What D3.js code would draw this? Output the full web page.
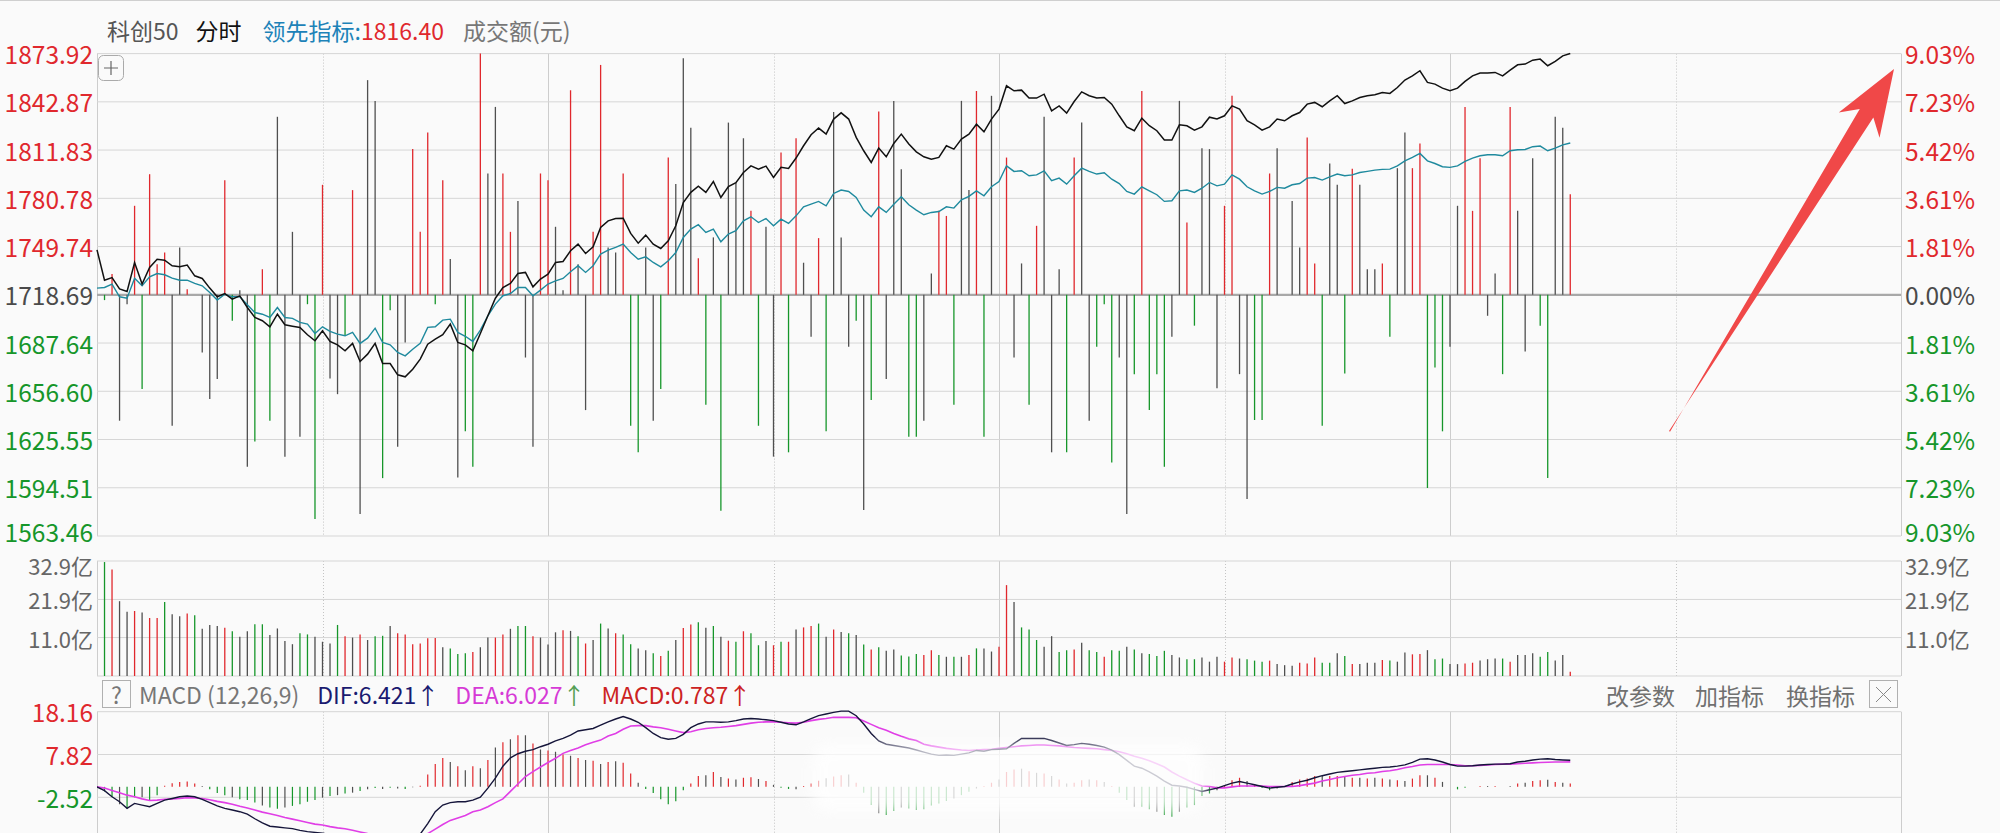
<!DOCTYPE html>
<html><head><meta charset="utf-8">
<script src="https://cdn.jsdelivr.net/npm/d3@7"></script>
<style>
html,body{margin:0;padding:0;background:#fafafa;}
svg{display:block;font-family:"Noto Sans CJK SC","Noto Sans",sans-serif;}
</style></head><body>
<svg id="c" width="2000" height="833"></svg>
<script>
// ---------- data ----------
const preClose = 1718.69;
const leftTicks = ["1873.92","1842.87","1811.83","1780.78","1749.74","1718.69","1687.64","1656.60","1625.55","1594.51","1563.46"];
const rightTicks = ["9.03%","7.23%","5.42%","3.61%","1.81%","0.00%","1.81%","3.61%","5.42%","7.23%","9.03%"];
const volTickVals = [32.9, 21.9, 11.0];
const volTicks = ["32.9亿","21.9亿","11.0亿"];
const macdTickVals = [18.16, 7.82, -2.52];
const macdTicks = ["18.16","7.82","-2.52"];

// black line (index price), one point per minute
const price = [1747.6,1728.1,1729.8,1722.5,1720.8,1739.5,1725.6,1736.3,1741.6,1741.0,
1737.4,1736.7,1737.8,1730.9,1729.2,1723.0,1717.4,1719.5,1715.9,1718.0,
1710.5,1704.1,1702.0,1698.1,1706.2,1699.4,1698.5,1697.7,1693.0,1689.1,
1695.5,1688.7,1686.5,1682.7,1687.4,1675.8,1680.5,1687.4,1674.5,1674.5,
1667.2,1665.9,1670.8,1677.3,1686.9,1690.2,1693.0,1699.8,1688.0,1686.5,
1682.7,1693.8,1705.2,1716.5,1723.4,1726.0,1732.4,1733.1,1723.8,1728.8,
1732.0,1739.5,1740.1,1747.0,1751.3,1745.3,1749.6,1762.0,1766.3,1767.8,
1768.0,1758.2,1751.9,1757.1,1751.3,1748.5,1753.4,1763.1,1778.1,1784.6,
1788.6,1784.6,1791.6,1781.3,1788.4,1790.8,1797.4,1801.7,1799.6,1801.5,
1794.2,1800.7,1800.0,1806.7,1814.6,1821.7,1826.0,1822.1,1831.8,1835.8,
1831.8,1820.0,1811.4,1803.9,1813.1,1807.5,1816.1,1822.1,1815.7,1810.7,
1807.5,1806.0,1807.1,1814.6,1812.4,1818.9,1822.1,1828.5,1823.6,1831.8,
1838.2,1853.2,1850.0,1850.4,1845.3,1845.3,1847.8,1837.1,1840.3,1835.6,
1843.1,1849.3,1846.8,1845.3,1845.7,1841.4,1833.9,1826.8,1824.3,1832.4,
1827.5,1824.3,1818.3,1818.3,1828.1,1827.5,1824.7,1826.8,1833.0,1831.8,
1833.9,1840.3,1838.2,1830.7,1828.1,1824.7,1826.8,1831.8,1830.7,1833.9,
1836.0,1841.4,1842.5,1839.7,1843.5,1846.8,1841.8,1843.5,1845.7,1846.8,
1847.4,1848.9,1848.3,1852.1,1856.9,1859.6,1862.9,1855.4,1854.3,1851.7,
1850.0,1851.7,1856.0,1859.6,1861.4,1861.4,1861.8,1859.6,1863.3,1866.7,
1867.2,1869.7,1870.4,1866.1,1868.9,1872.5,1874.0];

// teal line (领先指标)
const lead = [1723.0,1723.4,1725.6,1717.4,1716.5,1729.4,1724.5,1730.3,1732.4,1731.6,
1729.4,1728.1,1728.1,1726.0,1724.5,1720.2,1715.3,1719.1,1717.4,1717.4,
1712.3,1707.3,1706.2,1704.1,1710.5,1704.1,1703.5,1700.9,1699.8,1693.8,
1698.1,1695.1,1693.4,1692.3,1694.5,1687.4,1690.8,1697.2,1688.0,1686.5,
1681.6,1679.4,1683.7,1687.4,1697.7,1698.1,1702.4,1703.0,1694.5,1692.0,
1688.7,1696.0,1705.2,1712.7,1718.1,1719.5,1723.4,1723.4,1718.1,1721.7,
1725.6,1727.7,1729.2,1733.5,1737.4,1733.1,1737.4,1744.9,1747.4,1749.2,
1751.3,1745.9,1741.6,1743.1,1739.5,1736.7,1740.6,1745.9,1755.6,1761.0,
1763.8,1758.8,1761.0,1752.8,1757.8,1759.9,1766.3,1768.9,1765.2,1767.8,
1763.1,1767.4,1764.6,1769.5,1775.3,1777.0,1778.8,1776.0,1783.9,1786.1,
1785.2,1781.3,1773.2,1768.9,1775.3,1771.7,1777.0,1781.8,1776.6,1773.2,
1770.2,1771.7,1772.3,1775.3,1774.5,1779.8,1782.0,1785.6,1782.4,1788.2,
1791.6,1801.7,1798.1,1798.5,1795.3,1795.9,1798.5,1792.1,1793.8,1789.9,
1795.3,1800.2,1798.1,1796.4,1797.2,1793.1,1790.3,1785.2,1783.5,1788.2,
1785.6,1783.1,1778.8,1779.2,1785.6,1786.1,1784.6,1787.3,1791.0,1788.8,
1789.9,1795.9,1793.1,1788.2,1785.6,1783.5,1785.2,1787.8,1787.3,1789.5,
1790.3,1793.8,1794.2,1792.5,1794.6,1796.4,1795.3,1795.9,1797.4,1798.1,
1798.9,1799.4,1799.6,1801.7,1804.9,1807.1,1809.7,1804.9,1803.2,1801.1,
1800.7,1801.7,1804.5,1806.7,1808.2,1808.8,1808.8,1808.2,1811.4,1812.0,
1812.2,1814.0,1814.4,1811.4,1813.1,1815.2,1816.4];

// vertical strength spikes in the price panel (relative units, ±100 = panel edge)
const spikeVal = [0,-2.2,8.6,-52.2,-3.9,36.9,-39.1,50.0,12.7,17.5,
-54.3,19.6,2.3,0,-23.9,-43.2,-34.9,47.5,-10.8,1.9,
-71.3,-60.8,10.6,-52.2,73.8,-67.1,26.1,-58.8,-3.9,-93.0,
45.6,-34.7,-41.2,-17.0,43.4,-90.9,89.0,80.4,-76.0,-6.4,
-63.0,-19.8,60.4,26.1,67.3,-3.9,47.5,14.8,-75.7,-56.6,
-71.3,100,50.3,77.9,50.3,26.1,38.9,-26.0,-63.0,50.3,
47.5,28.2,1.9,84.8,12.7,-47.8,26.1,95.3,19.6,17.5,
50.3,-54.3,-65.3,19.6,-52.2,-39.1,56.9,45.9,98.1,69.3,
15.2,-45.6,23.8,-89.5,71.4,46.5,64.9,34.8,-54.3,28.2,
-67.1,59.0,-65.3,64.9,13.3,-17.4,23.5,-56.6,75.8,23.8,
-21.5,-10.8,-89.2,-43.6,76.0,-34.9,80.4,52.1,-58.8,-58.8,
-52.2,8.8,34.8,32.7,-45.6,80.4,43.4,84.5,-58.8,82.5,
0,56.9,-26.0,13.0,-45.6,28.6,73.8,-65.3,10.6,-65.3,
56.9,71.4,-52.2,-21.5,-3.9,-69.5,-26.0,-90.9,-32.9,84.5,
-47.8,-32.9,-71.3,-17.4,80.4,30.0,-12.8,60.8,60.4,-38.7,
36.9,82.5,-32.9,-84.7,-51.9,-51.9,50.3,60.8,0,38.9,
19.6,65.2,13.0,-54.3,54.4,45.6,-32.6,52.3,45.6,10.6,
10.6,13.0,-17.4,52.5,67.3,52.5,62.7,-80.1,-30.1,-56.6,
-21.5,36.9,77.9,34.8,56.6,-8.7,8.8,-32.9,77.9,34.8,
-23.5,56.6,-12.8,-76.0,73.8,69.3,41.7];
const spikeCol = ["","g","r","k","k","r","g","r","r","r",
"k","k","r","","k","k","k","r","g","k",
"k","g","r","g","k","k","k","k","g","g",
"r","k","k","g","r","k","k","k","g","g",
"k","k","r","r","r","g","r","k","k","g",
"g","r","k","k","r","r","k","k","k","r",
"r","k","k","r","k","k","r","r","k","k",
"r","g","g","k","k","g","r","k","k","k",
"r","g","k","g","k","k","k","r","g","k",
"k","r","g","r","k","k","r","g","k","k",
"k","g","k","g","r","k","k","k","g","g",
"k","k","r","r","g","k","k","r","g","k",
"","r","k","k","g","r","k","k","k","g",
"r","k","k","g","g","g","k","k","g","r",
"g","g","g","k","k","r","g","k","k","k",
"r","r","k","k","g","g","r","k","","k",
"k","r","r","g","k","k","g","r","k","k",
"k","r","g","k","k","r","r","g","g","g",
"k","k","r","r","r","k","k","g","r","k",
"k","k","g","g","k","k","r"];

// turnover per minute (亿元), index 0 has no bar
const vol = [null,32.6,30.5,21.4,18.4,18.6,18.2,16.6,16.6,21.2,
17.7,17.1,17.9,17.4,13.5,14.6,14.3,13.8,12.8,11.2,
12.8,14.8,14.8,11.7,13.6,10.0,9.1,12.2,11.9,11.2,
9.8,9.3,14.6,11.4,11.0,11.9,10.3,11.4,11.5,14.3,
12.2,11.9,9.1,9.3,10.8,10.9,8.2,7.9,6.3,6.5,
6.9,8.2,11.0,11.0,11.9,13.5,14.3,14.3,11.4,11.0,
9.0,12.5,13.1,12.9,11.4,9.3,10.3,15.0,13.6,12.2,
11.9,9.1,7.9,7.4,6.5,5.7,7.2,10.3,13.7,14.7,
15.4,13.8,14.3,11.2,10.1,9.8,12.8,12.2,8.8,10.0,
8.8,9.8,9.8,13.3,13.9,14.3,15.0,11.2,13.3,12.6,
12.2,11.7,9.0,7.6,8.2,7.2,7.6,5.9,5.6,6.3,
6.0,7.4,6.0,5.5,5.5,5.5,6.0,7.9,7.9,7.0,
8.4,26.0,21.2,13.9,13.3,10.3,8.4,11.4,6.9,7.4,
7.6,9.5,7.4,6.9,5.5,7.4,7.2,8.4,7.6,6.5,
6.3,5.7,7.2,6.0,5.3,4.8,4.8,5.3,4.1,5.5,
4.1,5.3,5.0,4.8,4.4,4.1,4.4,3.4,3.1,2.9,
3.8,3.6,5.3,3.8,3.8,6.5,5.7,3.4,3.4,3.8,
3.8,4.6,4.4,4.1,6.7,6.2,6.3,7.4,4.8,5.0,
3.4,3.4,3.6,3.8,4.4,4.8,5.0,5.0,4.1,6.0,
6.0,6.5,5.5,6.9,4.4,6.0,1.2];
const volCol = ["","g","r","k","k","r","k","r","r","g",
"k","k","r","g","k","k","k","r","g","k",
"k","g","g","k","k","k","k","g","g","k",
"k","k","g","r","k","r","k","g","g","k",
"r","r","r","r","r","r","k","g","g","g",
"r","k","k","r","r","k","g","g","r","k",
"k","k","r","k","g","r","k","g","k","r",
"g","g","k","k","g","r","g","k","r","r",
"g","k","g","k","r","g","r","g","g","k",
"r","g","r","k","r","r","g","k","r","k",
"g","k","g","r","g","k","k","g","g","g",
"r","r","g","k","g","k","r","g","k","k",
"r","r","k","g","g","g","k","k","g","g",
"r","k","g","g","r","g","g","k","g","k",
"g","g","g","k","k","g","g","k","k","k",
"r","r","k","g","g","g","r","k","k","k",
"r","r","r","g","g","k","g","r","k","k",
"k","r","g","k","k","r","r","k","g","g",
"k","k","r","r","k","k","k","g","r","k",
"k","k","g","g","k","k","r"];

// MACD (12,26,9)
const dif = [0.0,-0.9,-2.4,-3.6,-5.2,-4.0,-4.4,-4.8,-4.0,-3.2,
-2.8,-2.4,-2.2,-2.4,-3.0,-3.8,-4.6,-5.2,-5.6,-6.0,
-6.6,-7.7,-8.7,-9.5,-9.7,-9.9,-10.1,-10.5,-10.8,-11.0,
-11.2,-11.5,-11.8,-12.2,-12.3,-12.8,-12.9,-12.6,-13.0,-13.2,
-13.6,-13.8,-12.8,-11.4,-8.9,-6.0,-4.4,-3.8,-3.6,-3.6,
-3.2,-2.5,-0.3,2.1,5.0,7.0,8.0,8.6,9.0,9.7,
10.3,11.1,11.7,12.5,13.5,13.8,14.1,14.9,15.7,16.4,
17.0,16.4,15.6,14.3,12.9,11.9,11.5,11.7,12.7,14.3,
15.2,15.7,15.7,15.6,15.7,16.0,16.4,16.5,16.4,16.2,
16.0,15.6,15.2,15.0,15.7,16.5,17.2,17.6,18.0,18.3,
18.3,17.2,15.2,12.9,11.1,10.3,10.0,9.7,9.4,8.9,
8.4,7.9,7.6,7.7,7.6,7.9,8.2,8.8,8.6,9.0,
9.1,9.2,10.5,11.7,11.7,11.7,11.7,11.2,10.6,10.0,
10.2,10.5,10.3,10.0,9.6,8.9,7.8,6.4,5.0,4.5,
3.6,2.6,1.4,0.4,0.2,-0.1,-0.6,-1.1,-0.7,-0.3,
0.3,0.9,1.3,0.9,0.5,0.1,-0.3,-0.1,0.1,0.7,
1.2,1.6,2.2,2.7,3.1,3.5,3.7,3.9,4.1,4.3,
4.5,4.7,4.8,5.0,5.3,5.9,6.7,6.8,6.5,6.0,
5.4,5.0,5.0,5.1,5.3,5.4,5.5,5.5,5.6,6.0,
6.2,6.5,6.7,6.8,6.6,6.5,6.421];
const dea = [0.0,-0.3,-0.9,-1.4,-2.0,-2.4,-2.9,-3.3,-3.2,-3.0,
-2.9,-2.8,-2.6,-2.7,-2.8,-3.1,-3.5,-3.8,-4.2,-4.7,
-5.1,-5.6,-6.1,-6.5,-6.9,-7.4,-7.8,-8.2,-8.6,-9.0,
-9.2,-9.6,-9.9,-10.1,-10.5,-10.9,-11.3,-11.5,-11.7,-11.9,
-12.1,-12.3,-12.3,-11.8,-11.3,-10.2,-9.1,-8.1,-7.5,-6.9,
-6.0,-5.6,-4.8,-3.8,-2.9,-1.1,0.7,2.5,3.7,4.8,
5.9,6.9,8.1,8.8,9.4,10.2,10.8,11.3,12.3,12.9,
13.9,14.7,14.8,14.8,14.5,14.3,13.9,13.5,13.1,13.3,
13.8,14.1,14.3,14.4,14.6,14.8,15.1,15.4,15.6,15.7,
15.7,15.6,15.5,15.4,15.6,16.0,16.3,16.5,16.8,16.8,
16.8,16.7,15.9,15.1,14.3,13.7,12.9,12.2,11.6,11.2,
10.3,9.9,9.6,9.3,9.1,8.9,8.8,8.9,9.0,9.1,
9.3,9.5,9.7,9.9,10.0,10.1,10.1,10.0,9.9,9.7,
9.5,9.4,9.3,9.2,9.0,8.8,8.5,8.0,7.4,6.9,
6.3,5.6,4.8,3.6,2.6,1.7,0.9,0.2,0.1,-0.25,
-0.25,0.0,0.2,0.2,0.2,0.2,0.1,0.1,0.1,0.1,
0.3,0.6,0.9,1.4,1.8,2.2,2.5,2.8,3.0,3.3,
3.4,3.7,3.9,4.2,4.6,4.9,5.3,5.4,5.4,5.4,
5.4,5.3,5.1,5.1,5.2,5.3,5.4,5.5,5.5,5.6,
5.7,5.8,5.9,5.95,6.0,6.0,6.027];
const macdHist = [0,-1.1,-2.4,-4.2,-5.2,-2.5,-2.5,-3.2,-2.0,0.3,
0.9,1.2,1.3,0.8,0.2,-0.6,-1.5,-2.0,-2.5,-3.0,
-3.2,-3.8,-4.5,-5.0,-5.3,-5.0,-4.6,-4.2,-3.6,-3.2,
-2.6,-2.2,-2.0,-1.6,-1.4,-1.0,-0.6,-0.3,-0.5,-0.2,
-0.4,-0.5,-0.1,0.3,3.0,5.5,7.0,6.0,5.0,4.0,
5.0,4.5,6.5,9.5,10.8,11.5,12.5,12.5,10.5,9.0,
8.8,8.5,7.8,7.5,7.0,6.5,6.3,5.5,6.0,6.2,
5.8,3.2,1.0,-0.5,-1.5,-3.0,-4.2,-3.5,-0.8,0.8,
2.6,2.8,3.6,2.4,2.0,1.8,2.2,2.3,1.9,1.4,
0.5,-0.2,-0.5,-0.6,0.2,0.8,1.5,2.1,2.5,2.8,
3.0,1.0,-1.4,-4.4,-6.4,-6.8,-5.8,-5.0,-5.2,-5.6,
-5.4,-4.5,-4.0,-3.4,-2.8,-2.0,-1.2,-0.4,0.2,1.0,
1.8,3.6,4.2,4.4,3.8,3.4,3.2,2.6,1.8,0.8,
1.0,1.6,1.8,1.6,1.2,0.2,-1.4,-3.2,-4.8,-4.8,
-5.4,-6.0,-6.8,-7.2,-6.0,-5.0,-4.4,-2.2,-1.6,-0.8,
0.4,1.6,2.2,1.4,0.6,-0.2,-0.8,-0.4,0,1.2,
1.8,2.0,2.6,2.6,2.6,2.6,2.4,2.2,2.2,2.0,
2.2,2.0,1.8,1.6,1.4,2.0,2.8,2.8,2.2,1.2,
0,-0.6,-0.2,0,0.2,0.2,0.2,0,0.2,0.8,
1.0,1.4,1.6,1.7,1.2,1.0,0.787];
const macdCol = ["","g","g","k","g","g","k","g","g","r",
"r","r","r","r","k","g","g","g","k","g",
"g","g","k","g","g","k","g","g","g","g",
"k","g","k","g","k","g","k","g","k","g",
"k","g","k","r","r","r","r","k","r","k",
"r","k","r","k","r","k","r","k","r","k",
"r","k","r","k","r","k","r","k","r","k",
"r","r","k","g","g","g","g","g","g","r",
"r","k","r","k","r","k","r","r","k","r",
"k","g","g","k","r","r","r","k","r","r",
"k","r","g","g","k","g","g","k","g","g",
"g","g","g","g","k","g","g","k","r","r",
"k","r","r","k","r","k","r","k","r","k",
"r","r","k","r","k","r","g","g","k","g",
"g","k","g","g","k","g","g","g","g","k",
"r","r","r","k","r","g","g","k","","r",
"r","r","r","k","r","r","k","r","k","r",
"k","r","k","r","k","r","r","k","r","k",
"","g","g","","r","k","r","","k","r",
"k","r","r","k","r","k","r"];

// ---------- drawing ----------
const svg = d3.select("#c");
const X0 = 97, X1 = 1901;
const M_TOP = 53.6, M_BOT = 536;
const V_TOP = 561, V_BOT = 676;
const D_TOP = 711.7, D_BOT = 833;
const RED = "#e0282d", GREEN = "#16962a", GRIDC = "#d6d6d6";
const colorOf = {r: RED, g: GREEN, k: "#4f4f4f"};
const FONT = '"Noto Sans CJK SC","Noto Sans",sans-serif';

const x = d3.scaleLinear().domain([0, 240]).range([X0, X1]);
const yMain = d3.scaleLinear().domain([1563.46, 1873.92]).range([M_BOT, M_TOP]);
const ySpike = d3.scaleLinear().domain([-100, 100]).range([M_BOT, M_TOP]);
const yVol = d3.scaleLinear().domain([0, 32.9]).range([V_BOT, V_TOP]);
const yMacd = d3.scaleLinear().domain([-2.52, 18.16]).range([797.3, D_TOP]);

svg.append("rect").attr("width", 2000).attr("height", 833).attr("fill", "#fafafa");
svg.append("line").attr("x1", 0).attr("x2", 2000).attr("y1", 0.5).attr("y2", 0.5).attr("stroke", "#cfcfcf");

const defs = svg.append("defs");
defs.append("clipPath").attr("id", "clipM").append("rect")
  .attr("x", X0).attr("y", D_TOP - 4).attr("width", X1 - X0).attr("height", D_BOT - D_TOP + 4);
defs.append("filter").attr("id", "blur").append("feGaussianBlur").attr("stdDeviation", 7);

// ---- grids ----
const grid = svg.append("g");
const vIdx = d3.range(0, 9);
function vgrid(y0, y1) {
  vIdx.forEach(k => {
    const xx = Math.round(X0 + k * (X1 - X0) / 8) + 0.5;
    const dotted = (k % 2 === 1);
    grid.append("line").attr("x1", xx).attr("x2", xx).attr("y1", y0).attr("y2", y1)
      .attr("stroke", dotted ? "#c4c4c4" : "#cdcdcd")
      .attr("stroke-dasharray", dotted ? "1,2" : null).attr("stroke-width", 1);
  });
}
vgrid(M_TOP, M_BOT);
vgrid(V_TOP, V_BOT);
vgrid(D_TOP, D_BOT);

leftTicks.forEach((t, k) => {
  const yy = yMain(+t);
  grid.append("line").attr("x1", X0).attr("x2", X1).attr("y1", yy).attr("y2", yy)
    .attr("stroke", k === 5 ? "#a8a8a8" : GRIDC).attr("stroke-width", k === 5 ? 2.2 : 1);
});
[32.9, 21.9, 11.0, 0].forEach(v => {
  grid.append("line").attr("x1", X0).attr("x2", X1).attr("y1", yVol(v)).attr("y2", yVol(v))
    .attr("stroke", GRIDC);
});
macdTickVals.forEach(v => {
  grid.append("line").attr("x1", X0).attr("x2", X1).attr("y1", yMacd(v)).attr("y2", yMacd(v))
    .attr("stroke", GRIDC);
});

// ---- axis labels ----
const lab = svg.append("g").attr("font-family", FONT).attr("dominant-baseline", "central");
leftTicks.forEach((t, k) => {
  const c = k < 5 ? RED : (k === 5 ? "#4a4a4a" : GREEN);
  const yy = yMain(+t) + (k === 10 ? -5 : 0);
  lab.append("text").attr("x", 93).attr("y", yy).attr("text-anchor", "end")
    .attr("font-size", 24.5).attr("fill", c).text(t);
  lab.append("text").attr("x", 1905).attr("y", yy).attr("text-anchor", "start")
    .attr("font-size", 24.5).attr("fill", c).text(rightTicks[k]);
});
volTickVals.forEach((v, k) => {
  const yy = yVol(v) + (k === 0 ? 4 : 0);
  lab.append("text").attr("x", 93).attr("y", yy).attr("text-anchor", "end")
    .attr("font-size", 22).attr("fill", "#666").text(volTicks[k]);
  lab.append("text").attr("x", 1905).attr("y", yy).attr("text-anchor", "start")
    .attr("font-size", 22).attr("fill", "#666").text(volTicks[k]);
});
macdTickVals.forEach((v, k) => {
  lab.append("text").attr("x", 93).attr("y", yMacd(v)).attr("text-anchor", "end")
    .attr("font-size", 24.5).attr("fill", v > 0 ? RED : GREEN).text(macdTicks[k]);
});

// ---- header ----
const hdr = svg.append("text").attr("x", 107).attr("y", 30).attr("font-family", FONT)
  .attr("font-size", 23).attr("dominant-baseline", "central");
hdr.append("tspan").attr("fill", "#555").text("科创50");
hdr.append("tspan").attr("dx", 17).attr("fill", "#111").text("分时");
hdr.append("tspan").attr("dx", 21).attr("fill", "#1d82b8").text("领先指标:");
hdr.append("tspan").attr("fill", RED).text(lead[lead.length - 1].toFixed(2));
hdr.append("tspan").attr("dx", 19).attr("fill", "#777").text("成交额(元)");

// "+" button
svg.append("rect").attr("x", 98.5).attr("y", 55.5).attr("width", 25).attr("height", 25).attr("rx", 5)
  .attr("fill", "#fafafa").attr("stroke", "#aaa");
svg.append("path").attr("d", "M104,68H118M111,61V75").attr("stroke", "#666").attr("stroke-width", 1.2);

// ---- spikes ----
const idx = d3.range(price.length);
svg.append("g").selectAll("line").data(idx.filter(i => spikeCol[i]))
  .join("line")
  .attr("x1", i => x(i)).attr("x2", i => x(i))
  .attr("y1", ySpike(0)).attr("y2", i => ySpike(spikeVal[i]))
  .attr("stroke", i => colorOf[spikeCol[i]]).attr("stroke-width", 1.3);

// ---- price & lead lines ----
svg.append("path").datum(idx)
  .attr("d", d3.line().x(i => x(i)).y(i => yMain(lead[i])))
  .attr("fill", "none").attr("stroke", "#1f8a9e").attr("stroke-width", 1.4);
svg.append("path").datum(idx)
  .attr("d", d3.line().x(i => x(i)).y(i => yMain(price[i])))
  .attr("fill", "none").attr("stroke", "#111").attr("stroke-width", 1.5);

// ---- volume bars ----
svg.append("g").selectAll("line").data(idx.filter(i => vol[i] != null))
  .join("line")
  .attr("x1", i => x(i)).attr("x2", i => x(i))
  .attr("y1", yVol(0)).attr("y2", i => yVol(vol[i]))
  .attr("stroke", i => colorOf[volCol[i]]).attr("stroke-width", 1.3);

// ---- MACD header row ----
svg.append("rect").attr("x", 102.5).attr("y", 680.5).attr("width", 28).attr("height", 27)
  .attr("fill", "#fafafa").attr("stroke", "#b0b0b0");
const mh = svg.append("g").attr("font-family", FONT).attr("font-size", 23).attr("dominant-baseline", "central");
mh.append("text").attr("x", 116.5).attr("y", 694).attr("text-anchor", "middle").attr("fill", "#777").text("?");
const mt = mh.append("text").attr("x", 139).attr("y", 694);
mt.append("tspan").attr("fill", "#777").text("MACD (12,26,9)");
mt.append("tspan").attr("dx", 18).attr("fill", "#1a1a70").text("DIF:" + dif[dif.length - 1].toFixed(3));
mt.append("tspan").attr("fill", "#1a1a70").text("↑");
mt.append("tspan").attr("dx", 16).attr("fill", "#d63ad6").text("DEA:" + dea[dea.length - 1].toFixed(3));
mt.append("tspan").attr("fill", "#55a055").text("↑");
mt.append("tspan").attr("dx", 16).attr("fill", "#cc2222").text("MACD:" + macdHist[macdHist.length - 1].toFixed(3));
mt.append("tspan").attr("fill", "#cc2222").text("↑");
const btns = ["改参数", "加指标", "换指标"];
const btnX = [1606, 1695, 1786];
btns.forEach((b, k) => mh.append("text").attr("x", btnX[k]).attr("y", 695).attr("fill", "#707070").text(b));
svg.append("rect").attr("x", 1869.5).attr("y", 680.5).attr("width", 28).attr("height", 27)
  .attr("fill", "#fafafa").attr("stroke", "#b0b0b0");
svg.append("path").attr("d", "M1876,687L1891,702M1891,687L1876,702").attr("stroke", "#888").attr("stroke-width", 1);

// ---- MACD panel ----
const mg = svg.append("g").attr("clip-path", "url(#clipM)");
mg.selectAll("line").data(idx.filter(i => macdCol[i]))
  .join("line")
  .attr("x1", i => x(i)).attr("x2", i => x(i))
  .attr("y1", yMacd(0)).attr("y2", i => yMacd(macdHist[i]))
  .attr("stroke", i => colorOf[macdCol[i]]).attr("stroke-width", 1.2);
mg.append("path").datum(idx)
  .attr("d", d3.line().x(i => x(i)).y(i => yMacd(dea[i])))
  .attr("fill", "none").attr("stroke", "#e03ee6").attr("stroke-width", 1.6);
mg.append("path").datum(idx)
  .attr("d", d3.line().x(i => x(i)).y(i => yMacd(dif[i])))
  .attr("fill", "none").attr("stroke", "#15153a").attr("stroke-width", 1.4);

// watermark-like soft white patch over the middle of the MACD panel
svg.append("rect").attr("x", 812).attr("y", 744).attr("width", 392).attr("height", 68).attr("rx", 18)
  .attr("fill", "#ffffff").attr("opacity", 0.78).attr("filter", "url(#blur)");

// ---- red annotation arrow ----
const tail = [1669, 431], tip = [1894, 69];
const dx = tip[0] - tail[0], dy = tip[1] - tail[1], L = Math.hypot(dx, dy);
const u = [dx / L, dy / L], n = [-u[1], u[0]];
const P = (d, w) => [tip[0] - u[0] * d + n[0] * w, tip[1] - u[1] * d + n[1] * w];
const arrowPts = [tail, P(52, 8), P(66, 24), tip, P(66, -24), P(52, -8), [tail[0] + n[0]*1.2, tail[1] + n[1]*1.2]];
svg.append("path").attr("d", "M" + arrowPts.map(p => p.join(",")).join("L") + "Z")
  .attr("fill", "#f04848");
</script>
</body></html>
